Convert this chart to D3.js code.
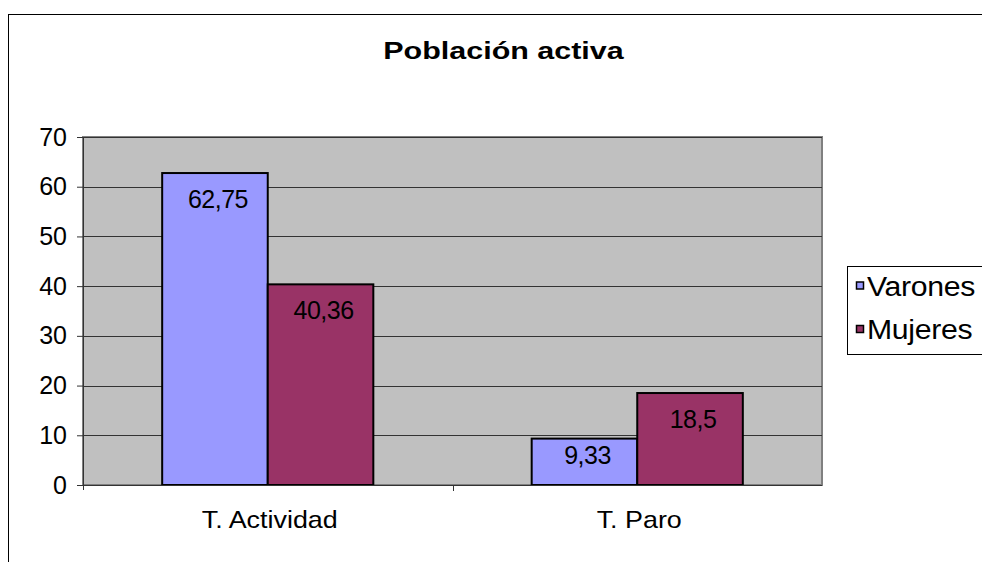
<!DOCTYPE html>
<html>
<head>
<meta charset="utf-8">
<script src="https://cdn.jsdelivr.net/npm/d3@7"></script>
<style>
  body { margin: 0; background: #fff; }
  text { font-family: Arial, "Liberation Sans", sans-serif; }
</style>
</head>
<body>
<script>
// chart data
var categories = ["T. Actividad", "T. Paro"];
var seriesNames = ["Varones", "Mujeres"];
var varones = [62.75, 9.33];
var mujeres = [40.36, 18.5];
var valueLabels = [["62,75", "9,33"], ["40,36", "18,5"]];
var yTicks = [0, 10, 20, 30, 40, 50, 60, 70];
var colors = ["#9999FF", "#993366"];

var W = 982, H = 562;
var plot = {left: 83, top: 137, right: 822, bottom: 485};

var svg = d3.select("body").append("svg")
    .attr("width", W)
    .attr("height", H);

// the original text is rendered a bit wider than Arial, so stretch it horizontally
function wideText(g, x, y, sx) {
  return g.append("g")
      .attr("transform", "translate(" + x + "," + y + ") scale(" + sx + ",1)")
    .append("text");
}

// outer chart frame
svg.append("rect")
    .attr("x", 8.5).attr("y", 14.5)
    .attr("width", W + 10).attr("height", H + 10)
    .attr("fill", "#fff").attr("stroke", "#000").attr("stroke-width", 1);

// title
wideText(svg, 503.5, 59, 1.27)
    .attr("text-anchor", "middle")
    .attr("font-size", 24).attr("font-weight", "bold")
    .text("Población activa");

// scales
var x0 = d3.scaleBand().domain(categories).range([plot.left, plot.right]);
var groupW = x0.bandwidth() * 2 / 3.5;
var x1 = d3.scaleBand().domain(seriesNames).range([0, groupW]);
var y = d3.scaleLinear().domain([0, 70]).range([plot.bottom, plot.top]);

// plot area
svg.append("rect")
    .attr("x", plot.left).attr("y", plot.top)
    .attr("width", plot.right - plot.left).attr("height", plot.bottom - plot.top)
    .attr("fill", "#C0C0C0").attr("stroke", "#808080").attr("stroke-width", 2);

// gridlines
svg.append("g").selectAll("line")
    .data(yTicks.slice(1))
  .enter().append("line")
    .attr("x1", plot.left).attr("x2", plot.right)
    .attr("y1", function(d) { return Math.round(y(d)) + 0.5; })
    .attr("y2", function(d) { return Math.round(y(d)) + 0.5; })
    .attr("stroke", "#333").attr("stroke-width", 1);

// bars
var series = [varones, mujeres];
series.forEach(function(vals, si) {
  var g = svg.append("g");
  g.selectAll("rect")
      .data(vals)
    .enter().append("rect")
      .attr("x", function(d, i) { return x0(categories[i]) + (x0.bandwidth() - groupW) / 2 + x1(seriesNames[si]); })
      .attr("y", function(d) { return y(d); })
      .attr("width", x1.bandwidth())
      .attr("height", function(d) { return y(0) - y(d); })
      .attr("fill", colors[si])
      .attr("stroke", "#000").attr("stroke-width", 2);

  g.selectAll("text")
      .data(vals)
    .enter().append("text")
      .attr("x", function(d, i) { return x0(categories[i]) + (x0.bandwidth() - groupW) / 2 + x1(seriesNames[si]) + x1.bandwidth() / 2 + 3; })
      .attr("y", function(d) {
        var h = y(0) - y(d);
        return y(d) + Math.min(26, h / 2 - 7);
      })
      .attr("dy", "0.35em")
      .attr("text-anchor", "middle")
      .attr("font-size", 25)
      .attr("letter-spacing", -0.5)
      .text(function(d, i) { return valueLabels[si][i]; });
});

// y axis
var yAxis = svg.append("g")
    .attr("transform", "translate(" + plot.left + ",0)")
    .call(d3.axisLeft(y).tickValues(yTicks).tickSize(6).tickPadding(10).tickFormat(d3.format("d")));
yAxis.selectAll("text").attr("font-size", 25).attr("fill", "#000")
    .attr("font-family", "Arial, 'Liberation Sans', sans-serif");
yAxis.selectAll("line").attr("stroke", "#333");
yAxis.select(".domain").attr("stroke", "#333").attr("d", "M0.5," + plot.top + "V" + (plot.bottom + 5));

// x axis
var xAxis = svg.append("g")
    .attr("transform", "translate(0," + plot.bottom + ")");
xAxis.append("line")
    .attr("x1", plot.left).attr("x2", plot.right)
    .attr("y1", 0.5).attr("y2", 0.5)
    .attr("stroke", "#333");
xAxis.selectAll(".sep")
    .data(categories.slice(1))
  .enter().append("line")
    .attr("class", "sep")
    .attr("x1", function(d) { return Math.round(x0(d)) + 0.5; })
    .attr("x2", function(d) { return Math.round(x0(d)) + 0.5; })
    .attr("y1", 0).attr("y2", 6)
    .attr("stroke", "#333");
categories.forEach(function(c) {
  wideText(xAxis, x0(c) + x0.bandwidth() / 2 + 2, 43, 1.12)
      .attr("text-anchor", "middle")
      .attr("font-size", 24)
      .text(c);
});

// legend
var legend = svg.append("g");
legend.append("rect")
    .attr("x", 847.5).attr("y", 266.5)
    .attr("width", 200).attr("height", 88)
    .attr("fill", "#fff").attr("stroke", "#000");
var items = legend.selectAll(".item")
    .data(seriesNames)
  .enter().append("g")
    .attr("transform", function(d, i) { return "translate(856," + (285.5 + i * 43.5) + ")"; });
items.append("rect")
    .attr("x", 0.5).attr("y", -3.5)
    .attr("width", 7).attr("height", 7)
    .attr("fill", function(d, i) { return colors[i]; })
    .attr("stroke", "#000").attr("stroke-width", 1.5);
items.each(function(d) {
  wideText(d3.select(this), 11, 10, 1.12)
      .attr("font-size", 27)
      .attr("letter-spacing", -0.3)
      .text(d);
});
</script>
</body>
</html>
